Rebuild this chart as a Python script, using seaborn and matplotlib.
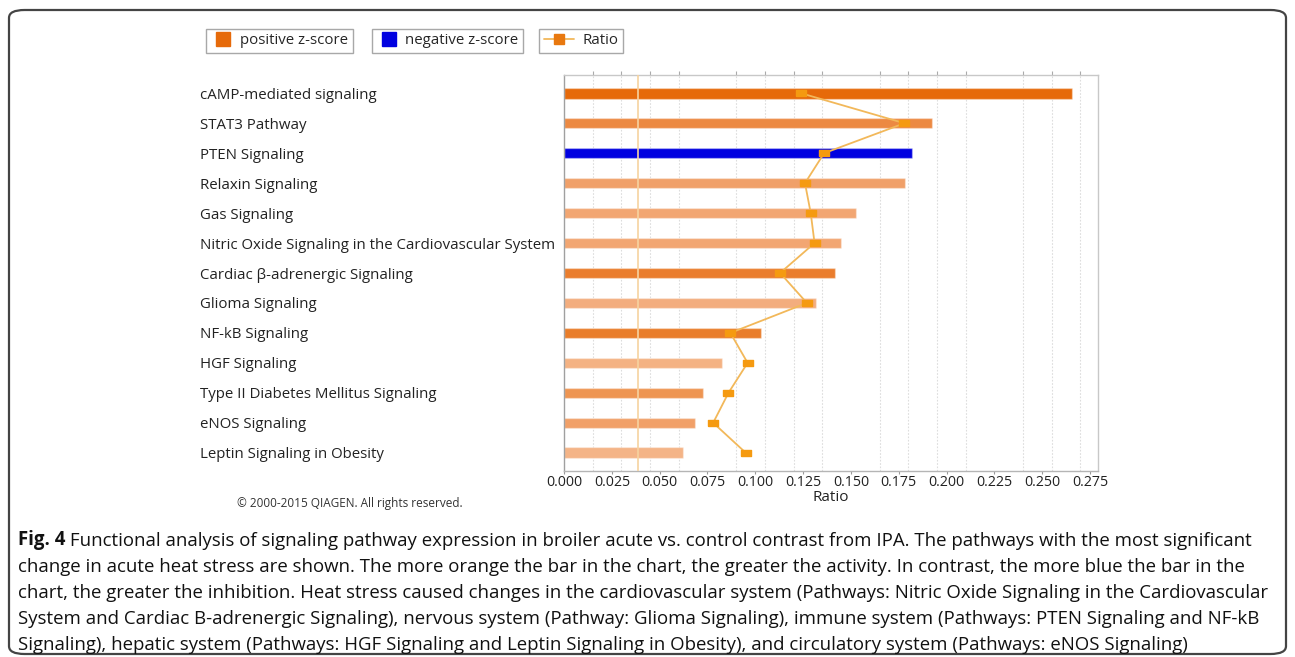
import numpy as np
import matplotlib
matplotlib.use("Agg")
import matplotlib.pyplot as plt
import seaborn as sns
from matplotlib.patches import FancyBboxPatch
from matplotlib.lines import Line2D
from matplotlib.ticker import MultipleLocator

# Canonical pathways, top to bottom
pathways = [
    "cAMP-mediated signaling",
    "STAT3 Pathway",
    "PTEN Signaling",
    "Relaxin Signaling",
    "Gas Signaling",
    "Nitric Oxide Signaling in the Cardiovascular System",
    "Cardiac \u03b2-adrenergic Signaling",
    "Glioma Signaling",
    "NF-kB Signaling",
    "HGF Signaling",
    "Type II Diabetes Mellitus Signaling",
    "eNOS Signaling",
    "Leptin Signaling in Obesity",
]
# Bar lengths (pathway significance) and ratio of overlapping molecules
bar_values = [0.2656, 0.1926, 0.1818, 0.1783, 0.1527, 0.1448, 0.1417,
              0.1316, 0.1030, 0.0828, 0.0727, 0.0685, 0.0622]
ratio_values = [0.124, 0.178, 0.136, 0.126, 0.129, 0.131, 0.113,
                0.127, 0.087, 0.096, 0.086, 0.078, 0.095]
# z-score shading: deeper orange = more activated, blue = inhibited
bar_colors = ["#E66A0A", "#EC8942", "#0000E0", "#F0A069", "#F2A672", "#F2A672",
              "#EA7D2D", "#F3AD7E", "#E97D2A", "#F4B283", "#EE9552", "#F1A068",
              "#F4B487"]
threshold = 0.0385
x_ticks = [0.000, 0.025, 0.050, 0.075, 0.100, 0.125, 0.150, 0.175, 0.200,
           0.225, 0.250, 0.275]

sns.set_style("white")
plt.rcParams["font.family"] = ["Open Sans", "DejaVu Sans"]

W, H = 1295, 657
fig = plt.figure(figsize=(W / 100, H / 100), dpi=100)
ax = fig.add_axes([564 / W, 1 - 471 / H, (1098 - 564) / W, (471 - 75) / H])

sns.barplot(x=bar_values, y=pathways, hue=pathways, palette=bar_colors,
            legend=False, orient="h", width=0.35, ax=ax,
            edgecolor=(1, 1, 1, 0.35), linewidth=1.0, saturation=1)

# small flat rectangle marker for the ratio points
rect_marker = [(-1, -0.62), (1, -0.62), (1, 0.62), (-1, 0.62), (-1, -0.62)]
ypos = np.arange(len(pathways))
ax.plot(ratio_values, ypos, color="#F2B85A", lw=1.3, zorder=4)
ax.plot(ratio_values, ypos, ls="none", marker=rect_marker, markersize=7,
        markerfacecolor="#F59A10", markeredgecolor="#F59A10", zorder=5)
ax.axvline(threshold, color="#F6D3A0", lw=1.2, zorder=3)

ax.set_xlim(0, 0.2792)
ax.set_ylim(12.61, -0.61)
ax.set_xticks(x_ticks)
ax.set_xticklabels([f"{t:.3f}" for t in x_ticks], fontsize=10.3, color="#222222")
ax.xaxis.set_minor_locator(MultipleLocator(0.015))
ax.grid(False)
ax.grid(which="minor", axis="x", color="#DDDDDD", ls=(0, (1.5, 1.5)), lw=0.8)
ax.set_axisbelow(True)
ax.tick_params(axis="x", which="major", bottom=True, length=2, width=0.8,
               color="#999999", pad=1)
ax.tick_params(axis="x", which="minor", bottom=False, top=True, length=3,
               width=0.8, color="#AAAAAA", direction="out")
ax.set_xlabel("Ratio", fontsize=11, color="#222222", labelpad=0)
ax.set_ylabel("")
ax.tick_params(axis="y", length=0, pad=262)
for lab in ax.get_yticklabels():
    lab.set_ha("left")
    lab.set_fontsize(10.8)
    lab.set_color("#222222")
for side, col in [("left", "#A0A0A0"), ("bottom", "#B5B5B5"),
                  ("top", "#C8C8C8"), ("right", "#C8C8C8")]:
    ax.spines[side].set_visible(True)
    ax.spines[side].set_color(col)
    ax.spines[side].set_linewidth(1.0)

# Three separate legend boxes across the top
leg_fs = 10.8
leg_kw = dict(loc="upper left", fontsize=leg_fs, frameon=True, fancybox=False,
              framealpha=1, edgecolor="#A8A8A8", borderpad=0.3,
              borderaxespad=0)


def square(color):
    return Line2D([], [], ls="none", marker="s", markersize=9.4,
                  markerfacecolor=color, markeredgecolor=color)


l1 = fig.legend(handles=[square("#E66A0A")], labels=["positive z-score"],
                bbox_to_anchor=(206 / W, 1 - 29 / H), handlelength=1.6,
                handletextpad=0.4, **leg_kw)
l2 = fig.legend(handles=[square("#0000E0")], labels=["negative z-score"],
                bbox_to_anchor=(372 / W, 1 - 29 / H), handlelength=1.6,
                handletextpad=0.3, **leg_kw)
l3 = fig.legend(handles=[Line2D([], [], color="#F2B85A", lw=1.3, marker="s",
                                markersize=7, markerfacecolor="#E8780F",
                                markeredgecolor="#E8780F")],
                labels=["Ratio"], bbox_to_anchor=(539 / W, 1 - 29 / H),
                handlelength=2.0, handletextpad=0.6, **leg_kw)
for l in (l1, l2, l3):
    l.get_frame().set_linewidth(1.0)

fig.text(350 / W, 1 - 503 / H, "\u00a9 2000-2015 QIAGEN. All rights reserved.",
         fontsize=8.5, color="#333333", ha="center", va="center")

# Rounded outer border
border = FancyBboxPatch((9 / W, 3 / H), (1286 - 9) / W, (647 - 3) / H,
                        boxstyle="round,pad=0,rounding_size=0.012",
                        transform=fig.transFigure, fill=False,
                        edgecolor="#444444", lw=1.6)
fig.add_artist(border)

# Figure caption
cap_lines = [
    " Functional analysis of signaling pathway expression in broiler acute vs. control contrast from IPA. The pathways with the most significant",
    "change in acute heat stress are shown. The more orange the bar in the chart, the greater the activity. In contrast, the more blue the bar in the",
    "chart, the greater the inhibition. Heat stress caused changes in the cardiovascular system (Pathways: Nitric Oxide Signaling in the Cardiovascular",
    "System and Cardiac B-adrenergic Signaling), nervous system (Pathway: Glioma Signaling), immune system (Pathways: PTEN Signaling and NF-kB",
    "Signaling), hepatic system (Pathways: HGF Signaling and Leptin Signaling in Obesity), and circulatory system (Pathways: eNOS Signaling)",
]
cap_y = [540, 567, 593, 619, 645]
cap_fs = 13.4
t0 = fig.text(18 / W, 1 - cap_y[0] / H, "Fig. 4", fontsize=cap_fs,
              fontweight="bold", va="center", ha="left", color="#111111")
ax.annotate(cap_lines[0], xy=(1, 0), xycoords=t0, xytext=(0, 0),
            textcoords="offset points", va="bottom", ha="left",
            fontsize=cap_fs, color="#111111", annotation_clip=False)
for line, y in zip(cap_lines[1:], cap_y[1:]):
    fig.text(18 / W, 1 - y / H, line, fontsize=cap_fs, va="center",
             ha="left", color="#111111")

fig.savefig("out.png", dpi=100)
